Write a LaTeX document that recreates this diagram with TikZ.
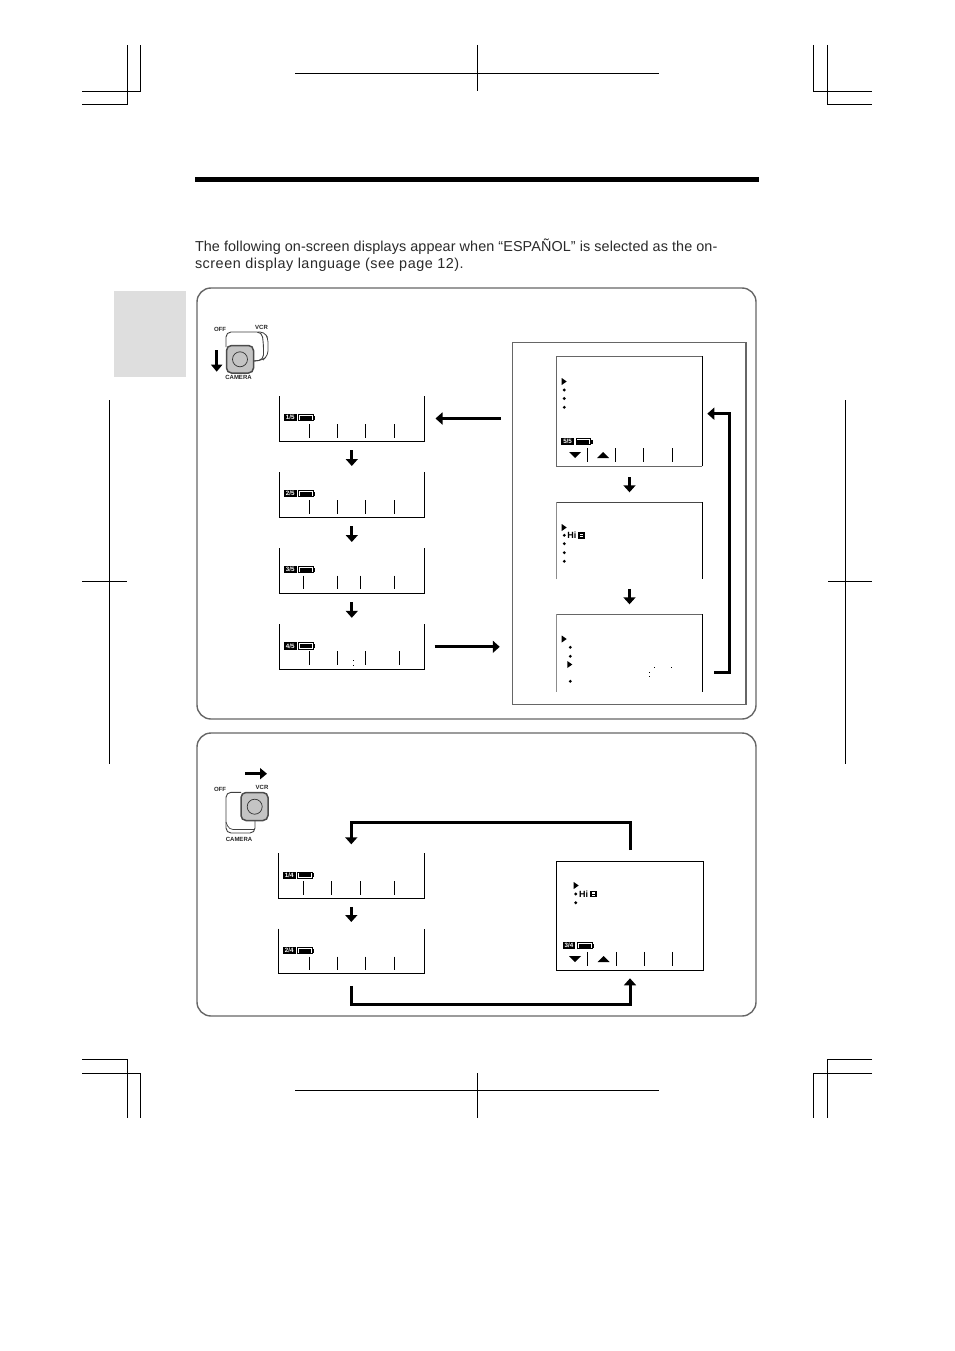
\documentclass[tikz,border=0pt]{standalone}
\usepackage{fontspec}
\setmainfont{Liberation Sans}
\usetikzlibrary{arrows.meta,calc}
\definecolor{panelgray}{HTML}{666666}
\definecolor{leftgray}{HTML}{8C8C8C}
\definecolor{tabgray}{HTML}{DEDEDE}
\definecolor{btngray}{HTML}{C4C4C4}
\definecolor{bodytext}{HTML}{2A2A2A}
\tikzset{
  crop/.style={line width=0.9pt,black,line cap=butt,line join=miter},
  panelbox/.style={draw=panelgray,line width=1.4pt,rounded corners=14pt},
  lcdbox/.style={rectangle,inner sep=0pt,outer sep=0pt},
  lcdline/.style={line width=1pt,black},
  tickline/.style={line width=0.9pt,black},
  bigarrow/.style={line width=3pt,black,line join=miter,-{Triangle[width=12pt,length=7pt]}},
  smallarrow/.style={line width=3pt,black,-{Triangle[width=11pt,length=7pt]}},
  badgetext/.style={inner sep=0pt,outer sep=0pt,white,font=\fontsize{6.2pt}{6.2pt}\selectfont\bfseries},
  tinylabel/.style={inner sep=0pt,outer sep=0pt,font=\fontsize{6pt}{6pt}\selectfont\bfseries,black!85},
  bodyline/.style={inner sep=0pt,outer sep=0pt,anchor=base west,text=bodytext},
  hitext/.style={inner sep=0pt,outer sep=0pt,anchor=west,font=\fontsize{9pt}{9pt}\selectfont\bfseries},
}
\newfontfamily\bodyA[LetterSpace=0.6]{Liberation Sans}
\newfontfamily\bodyB[LetterSpace=3.6]{Liberation Sans}
% x y name text
\newcommand{\osdbadge}[4]{%
  \fill[black] (#1,#2) rectangle ++(12.6,7.2);
  \node[badgetext] (#3) at (#1+6.3,#2+3.6) {#4};
  \fill[black] (#1+14.2,#2) rectangle ++(15.6,7.4);
  \fill[white] (#1+15.2,#2+1) rectangle ++(13.6,5.4);
  \fill[black] (#1+16,#2+1.8) rectangle ++(12,3.8);
  \fill[black] (#1+29.8,#2+1.8) rectangle ++(1.4,3.8);
}
\newcommand{\osdmark}[2]{\fill[black] (#1,#2) -- (#1,#2+7) -- (#1+5,#2+3.5) -- cycle;}
\newcommand{\osddot}[2]{\fill[black] (#1,#2-1.6) -- (#1+1.6,#2) -- (#1,#2+1.6) -- (#1-1.6,#2) -- cycle;}
\newcommand{\osddown}[2]{\fill[black] (#1-6,#2) -- (#1+6,#2) -- (#1,#2+6) -- cycle;}
\newcommand{\osdup}[2]{\fill[black] (#1-6,#2+6) -- (#1+6,#2+6) -- (#1,#2) -- cycle;}
% name cx top bottom
\newcommand{\openlcd}[4]{%
  \node[lcdbox,minimum width=145.4pt,minimum height={(#4-#3)*1pt}] (#1) at (#2,{(#3+#4)/2}) {};
  \draw[lcdline] (#1.north west) -- (#1.south west) -- (#1.south east) -- (#1.north east);
}
% top x1 x2 x3 x4
\newcommand{\lcdticks}[5]{%
  \draw[tickline] (#2,#1) -- ++(0,13.6);
  \draw[tickline] (#3,#1) -- ++(0,13.6);
  \draw[tickline] (#4,#1) -- ++(0,13.6);
  \draw[tickline] (#5,#1) -- ++(0,13.6);
}
\newcommand{\hilogo}[3]{%
  \node[hitext] (#3) at (#1,#2) {Hi};
  \fill[black] (#1+10.8,#2-3.2) rectangle ++(7,6.6);
  \fill[white] (#1+12.9,#2-1.7) rectangle ++(2.8,1.3);
  \fill[white] (#1+12.9,#2+0.6) rectangle ++(2.8,1.3);
}
\begin{document}
\begin{tikzpicture}[x=1pt,y=-1pt]
\useasboundingbox (0,0) rectangle (954,1351);
\fill[white] (0,0) rectangle (954,1351);

% crop marks
\draw[crop] (82,91.3) -- (140.3,91.3) -- (140.3,45);
\draw[crop] (82,104.3) -- (127.3,104.3) -- (127.3,45);
\draw[crop] (295,73) -- (659,73);
\draw[crop] (477,45) -- (477,91);
\draw[crop] (813.7,45) -- (813.7,91.3) -- (872,91.3);
\draw[crop] (827.3,45) -- (827.3,104.3) -- (872,104.3);
\draw[crop] (109,400) -- (109,764);
\draw[crop] (82,581) -- (127,581);
\draw[crop] (845,400) -- (845,764);
\draw[crop] (828,581) -- (872,581);
\draw[crop] (82,1059.3) -- (127.3,1059.3) -- (127.3,1118);
\draw[crop] (82,1073.3) -- (140.3,1073.3) -- (140.3,1118);
\draw[crop] (295,1090) -- (659,1090);
\draw[crop] (477,1073) -- (477,1118);
\draw[crop] (872,1059.3) -- (827.3,1059.3) -- (827.3,1118);
\draw[crop] (872,1073.3) -- (813.7,1073.3) -- (813.7,1118);

% header
\fill[black] (195,177) rectangle (759,182);
\fill[tabgray] (114,291) rectangle (186,377);
\node[bodyline,font=\bodyA\fontsize{14.4pt}{16pt}\selectfont] (line1) at (195,251) {The following on-screen displays appear when “ESPAÑOL” is selected as the on-};
\node[bodyline,font=\bodyB\fontsize{14.4pt}{16pt}\selectfont] (line2) at (195,268) {screen display language (see page 12).};

% panels
\draw[panelbox] (197,288) rectangle (756,719);
\draw[panelbox] (197,733) rectangle (756,1016);
\node[lcdbox,draw=panelgray,line width=1.4pt,minimum width=233.3pt,minimum height=361.6pt] (mb) at (629.4,523.5) {};

% switch 1
\draw[line width=0.9pt,black!75,rounded corners=5pt] (226,347) -- (226,332) -- (262,332) -- (263.5,345) -- (263.5,360) -- (254,361);
\draw[line width=0.8pt,black!75,rounded corners=4pt] (258,332) -- (264,332) -- (268,338) -- (268,355) -- (263,360) -- (254,361);
\draw[fill=btngray,draw=black!70,line width=1.5pt,rounded corners=5pt] (226.5,345.5) rectangle (253.5,373);
\draw[line width=0.7pt,black!80] (240,359.3) circle (7.5);
\node[tinylabel] (off1) at (220,329) {OFF};
\node[tinylabel] (vcr1) at (261.5,327) {VCR};
\node[tinylabel] (cam1) at (238.5,377.5) {CAMERA};
\coordinate (sw1a) at (216.7,350);
\coordinate (sw1b) at (216.7,371.7);
\draw[smallarrow] (sw1a) -- (sw1b);

% panel 1 left screens
\openlcd{s1}{351.8}{396}{441}
\openlcd{s2}{351.8}{472}{517}
\openlcd{s3}{351.8}{548}{593}
\openlcd{s4}{351.8}{624.3}{669.3}
\osdbadge{284}{414}{b1}{1/5}
\osdbadge{284}{490}{b2}{2/5}
\osdbadge{284}{566}{b3}{3/5}
\osdbadge{284}{642.3}{b4}{4/5}
\lcdticks{424}{309.3}{337.3}{365.3}{394.3}
\lcdticks{500}{309.3}{337.3}{365.3}{394.3}
\lcdticks{575.5}{303.3}{337.3}{360.3}{394.3}
\lcdticks{651.3}{309.3}{337.3}{365.3}{399.3}
\fill[black] (352.8,660) rectangle ++(1.2,1.2);
\fill[black] (352.8,664.5) rectangle ++(1.2,1.2);
\draw[bigarrow] ([yshift=-9pt]s1.south) -- ([yshift=6pt]s2.north);
\draw[bigarrow] ([yshift=-9pt]s2.south) -- ([yshift=6pt]s3.north);
\draw[bigarrow] ([yshift=-9pt]s3.south) -- ([yshift=6.5pt]s4.north);

% panel 1 connectors to the menu box
\draw[bigarrow] ([xshift=-12pt]mb.west |- s1.east) -- ([xshift=11pt]s1.east);
\draw[bigarrow] ([xshift=10pt]s4.east) -- ([xshift=-13pt]mb.west |- s4.east);

% menu screens
\node[lcdbox,minimum width=145.6pt,minimum height=109.7pt] (mA) at (629.5,411.2) {};
\draw[line width=1.1pt,panelgray] (mA.south east) -- (mA.south west) -- (mA.north west) -- (mA.north east);
\draw[lcdline] (mA.north east) -- (mA.south east);
\osdmark{561.7}{378}
\osddot{564.3}{390}
\osddot{564.3}{398.5}
\osddot{564.3}{407.3}
\osdbadge{561.3}{438}{b5}{5/5}
\lcdticks{448.3}{587.3}{615.3}{643.3}{672.3}
\osddown{575}{452}
\osdup{603}{452}

\node[lcdbox,minimum width=145.6pt,minimum height=77pt] (mB) at (629.5,540.8) {};
\draw[line width=1.4pt,leftgray] (mB.south west) -- (mB.north west);
\draw[line width=1pt,panelgray!70!black] (mB.north west) -- (mB.north east);
\draw[lcdline] (mB.north east) -- (mB.south east);
\osdmark{561.7}{524}
\osddot{564.3}{535.3}
\osddot{564.3}{543.7}
\osddot{564.3}{552.7}
\osddot{564.3}{561.3}
\hilogo{567.3}{535.3}{hi1}

\node[lcdbox,minimum width=145.6pt,minimum height=77.4pt] (mC) at (629.5,653) {};
\draw[line width=1.4pt,leftgray] (mC.south west) -- (mC.north west);
\draw[line width=1pt,panelgray] (mC.north west) -- (mC.north east);
\draw[lcdline] (mC.north east) -- (mC.south east);
\osdmark{561.7}{635.5}
\osddot{570.3}{647.3}
\osddot{570.3}{656.3}
\osdmark{567.3}{661}
\osddot{570.3}{681.3}
\fill[black] (654,667) rectangle ++(1,1);
\fill[black] (671.3,667) rectangle ++(1,1);
\fill[black] (648.5,671.5) rectangle ++(1.1,1.1);
\fill[black] (648.5,675.5) rectangle ++(1.1,1.1);

\draw[bigarrow] ([yshift=-11pt]mA.south) -- ([yshift=10pt]mB.north);
\draw[bigarrow] ([yshift=-9.5pt]mB.south) -- ([yshift=10pt]mC.north);
\coordinate (retS) at (714,672.3);
\coordinate (retE) at (707.3,413.7);
\draw[bigarrow] (retS) -- ++(15.7,0) |- (retE);

% switch 2
\draw[line width=0.9pt,black!75,rounded corners=5pt] (241,792.3) -- (226,792.3) -- (226,833) -- (255,833) -- (255,821);
\draw[line width=0.7pt,black!75,rounded corners=4pt] (226,822) -- (229,829.5) -- (254,829.5);
\draw[fill=btngray,draw=black!70,line width=1.5pt,rounded corners=5pt] (241,792.5) rectangle (268,820.5);
\draw[line width=0.7pt,black!80] (254.7,806.7) circle (7.5);
\node[tinylabel] (off2) at (220,789) {OFF};
\node[tinylabel] (vcr2) at (262,787) {VCR};
\node[tinylabel] (cam2) at (239,839) {CAMERA};
\coordinate (sw2a) at (245,773.7);
\coordinate (sw2b) at (267,773.7);
\draw[smallarrow] (sw2a) -- (sw2b);

% panel 2 screens
\openlcd{s5}{351.3}{853.3}{898.3}
\openlcd{s6}{351.3}{928.5}{973.8}
\osdbadge{283}{871.5}{b6}{1/4}
\osdbadge{283}{947}{b7}{2/4}
\lcdticks{881.3}{303.3}{331.3}{360.3}{394.3}
\lcdticks{956.7}{309.3}{337.3}{365.3}{394.3}
\draw[bigarrow] ([yshift=-8.5pt]s5.south) -- ([yshift=6.5pt]s6.north);

\node[lcdbox,draw=black,line width=1pt,minimum width=146.6pt,minimum height=109pt] (mF) at (630,916.2) {};
\osdmark{573.7}{882}
\osddot{575.7}{894}
\osddot{575.7}{902.7}
\hilogo{579}{894}{hi2}
\osdbadge{562.7}{942}{b8}{3/4}
\lcdticks{951.9}{587.3}{616.3}{644.3}{672.3}
\osddown{575}{956}
\osdup{603.7}{956}

\draw[bigarrow] ([yshift=11.7pt]mF.north) -- ++(0,-27.7) -| ([yshift=9pt]s5.north);
\draw[bigarrow] ([yshift=-12pt]s6.south) -- ++(0,18.3) -| ([yshift=-7.6pt]mF.south);
\end{tikzpicture}
\end{document}
